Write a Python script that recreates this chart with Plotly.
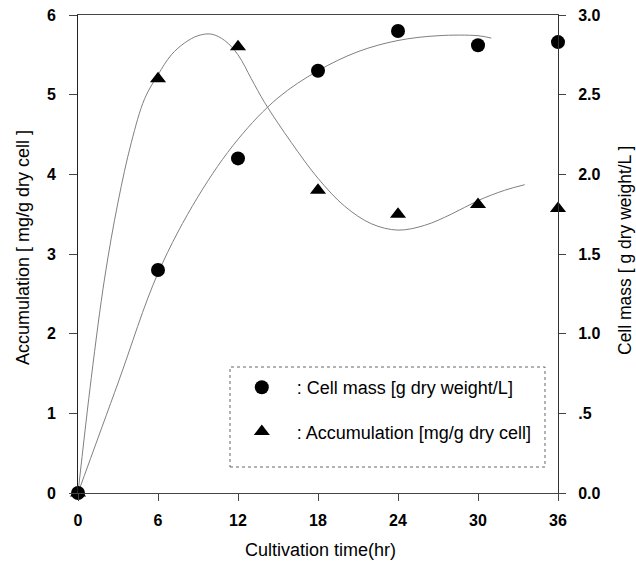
import plotly.graph_objects as go

# Measured data
time_hr = [0, 6, 12, 18, 24, 30, 36]
cell_mass = [0.0, 1.40, 2.10, 2.65, 2.90, 2.81, 2.83]          # g dry weight/L (right axis)
accumulation = [0.0, 5.20, 5.60, 3.80, 3.50, 3.62, 3.57]       # mg/g dry cell (left axis)

# Fitted trend curves
acc_fit_x = [0, 1, 2, 3, 4, 5, 6, 7, 8, 9, 10, 11, 12, 13, 14, 16, 18, 20, 22, 24, 26, 28, 30, 32, 33.5]
acc_fit_y = [0, 1.45, 2.7, 3.65, 4.4, 4.95, 5.25, 5.5, 5.65, 5.74, 5.76, 5.68, 5.5, 5.2, 4.9, 4.4, 3.95, 3.6, 3.38, 3.3, 3.36, 3.5, 3.67, 3.8, 3.87]
cell_fit_x = [0, 3, 6, 9, 12, 15, 18, 21, 24, 27, 30, 31]
cell_fit_y = [0, 0.69, 1.38, 1.86, 2.22, 2.48, 2.65, 2.77, 2.84, 2.87, 2.87, 2.855]

right_tickvals = [0, 0.5, 1.0, 1.5, 2.0, 2.5, 3.0]
right_ticktext = ["0.0", ".5", "1.0", "1.5", "2.0", "2.5", "3.0"]
x_tickvals = [0, 6, 12, 18, 24, 30, 36]
left_tickvals = [0, 1, 2, 3, 4, 5, 6]

FONT = "Liberation Sans, Arial, Helvetica, sans-serif"

W, H = 636, 563
L, R, T, B = 78, 78, 15, 70
PW = W - L - R
PH = H - T - B


def px_x(p):
    return (p - L) / PW


def px_y(p):
    return (H - B - p) / PH


fig = go.Figure()

fig.add_trace(go.Scatter(x=acc_fit_x, y=acc_fit_y, mode="lines", yaxis="y",
                         line=dict(color="#808080", width=1, shape="spline"),
                         showlegend=False, hoverinfo="skip"))
fig.add_trace(go.Scatter(x=cell_fit_x, y=cell_fit_y, mode="lines", yaxis="y2",
                         line=dict(color="#808080", width=1, shape="spline"),
                         showlegend=False, hoverinfo="skip"))

fig.add_trace(go.Scatter(x=time_hr, y=cell_mass, mode="markers", yaxis="y2",
                         name=": Cell mass [g dry weight/L]", legendgroup="a", cliponaxis=False,
                         marker=dict(symbol="circle", size=14, color="black")))
fig.add_trace(go.Scatter(x=time_hr, y=accumulation, mode="markers", yaxis="y",
                         name=": Accumulation [mg/g dry cell]", legendgroup="b", cliponaxis=False,
                         marker=dict(symbol="triangle-up", size=14, color="black")))

tickfont = dict(size=16, weight="bold", family=FONT)
titlefont = dict(size=18, family=FONT)
fig.update_layout(
    width=W, height=H,
    margin=dict(l=L, r=R, t=T, b=B),
    paper_bgcolor="white", plot_bgcolor="white",
    font=dict(family=FONT, color="black"),
    xaxis=dict(range=[0, 36], tickvals=x_tickvals, showgrid=False, zeroline=False,
               showline=True, linecolor="#444444", linewidth=1, mirror=True,
               ticks="outside", ticklen=7, tickcolor="#444444", automargin=False,
               ticklabelstandoff=6, tickfont=tickfont),
    yaxis=dict(range=[0, 6], tickvals=left_tickvals, showgrid=False, zeroline=False,
               showline=True, linecolor="#222222", linewidth=1, automargin=False,
               ticks="outside", ticklen=8, tickcolor="#444444",
               ticklabelstandoff=10, tickfont=tickfont),
    yaxis2=dict(range=[0, 3], overlaying="y", side="right", tickvals=right_tickvals,
                ticktext=right_ticktext, showgrid=False, zeroline=False,
                showline=True, linecolor="#333333", linewidth=1, automargin=False,
                ticks="outside", ticklen=7, tickcolor="#444444",
                ticklabelstandoff=9, tickfont=tickfont),
    legend=dict(x=0.31, y=px_y(369), xanchor="left", yanchor="top",
                bgcolor="rgba(0,0,0,0)", borderwidth=0,
                font=dict(size=18, family=FONT),
                tracegroupgap=18, traceorder="grouped", itemwidth=60),
    shapes=[dict(type="rect", xref="paper", yref="paper",
                 x0=px_x(230), x1=px_x(545), y0=px_y(467), y1=px_y(367),
                 line=dict(color="#666666", width=1, dash="dot"))],
    annotations=[
        dict(text="Cultivation time(hr)", xref="paper", yref="paper", x=px_x(320), y=px_y(550),
             xanchor="center", yanchor="middle", showarrow=False, font=titlefont),
        dict(text="Accumulation [ mg/g dry cell ]", xref="paper", yref="paper", x=px_x(23), y=px_y(248),
             xanchor="center", yanchor="middle", showarrow=False, textangle=-90, font=titlefont),
        dict(text="Cell mass [ g dry weight/L ]", xref="paper", yref="paper", x=px_x(625), y=px_y(251),
             xanchor="center", yanchor="middle", showarrow=False, textangle=-90, font=dict(size=17.5, family=FONT)),
    ],
)

# remove the page's default 8px body margin so the figure fills the window exactly
fig.write_html("out.html", config={"displayModeBar": False},
               post_script="document.body.style.margin='0';document.body.style.overflow='hidden';")
